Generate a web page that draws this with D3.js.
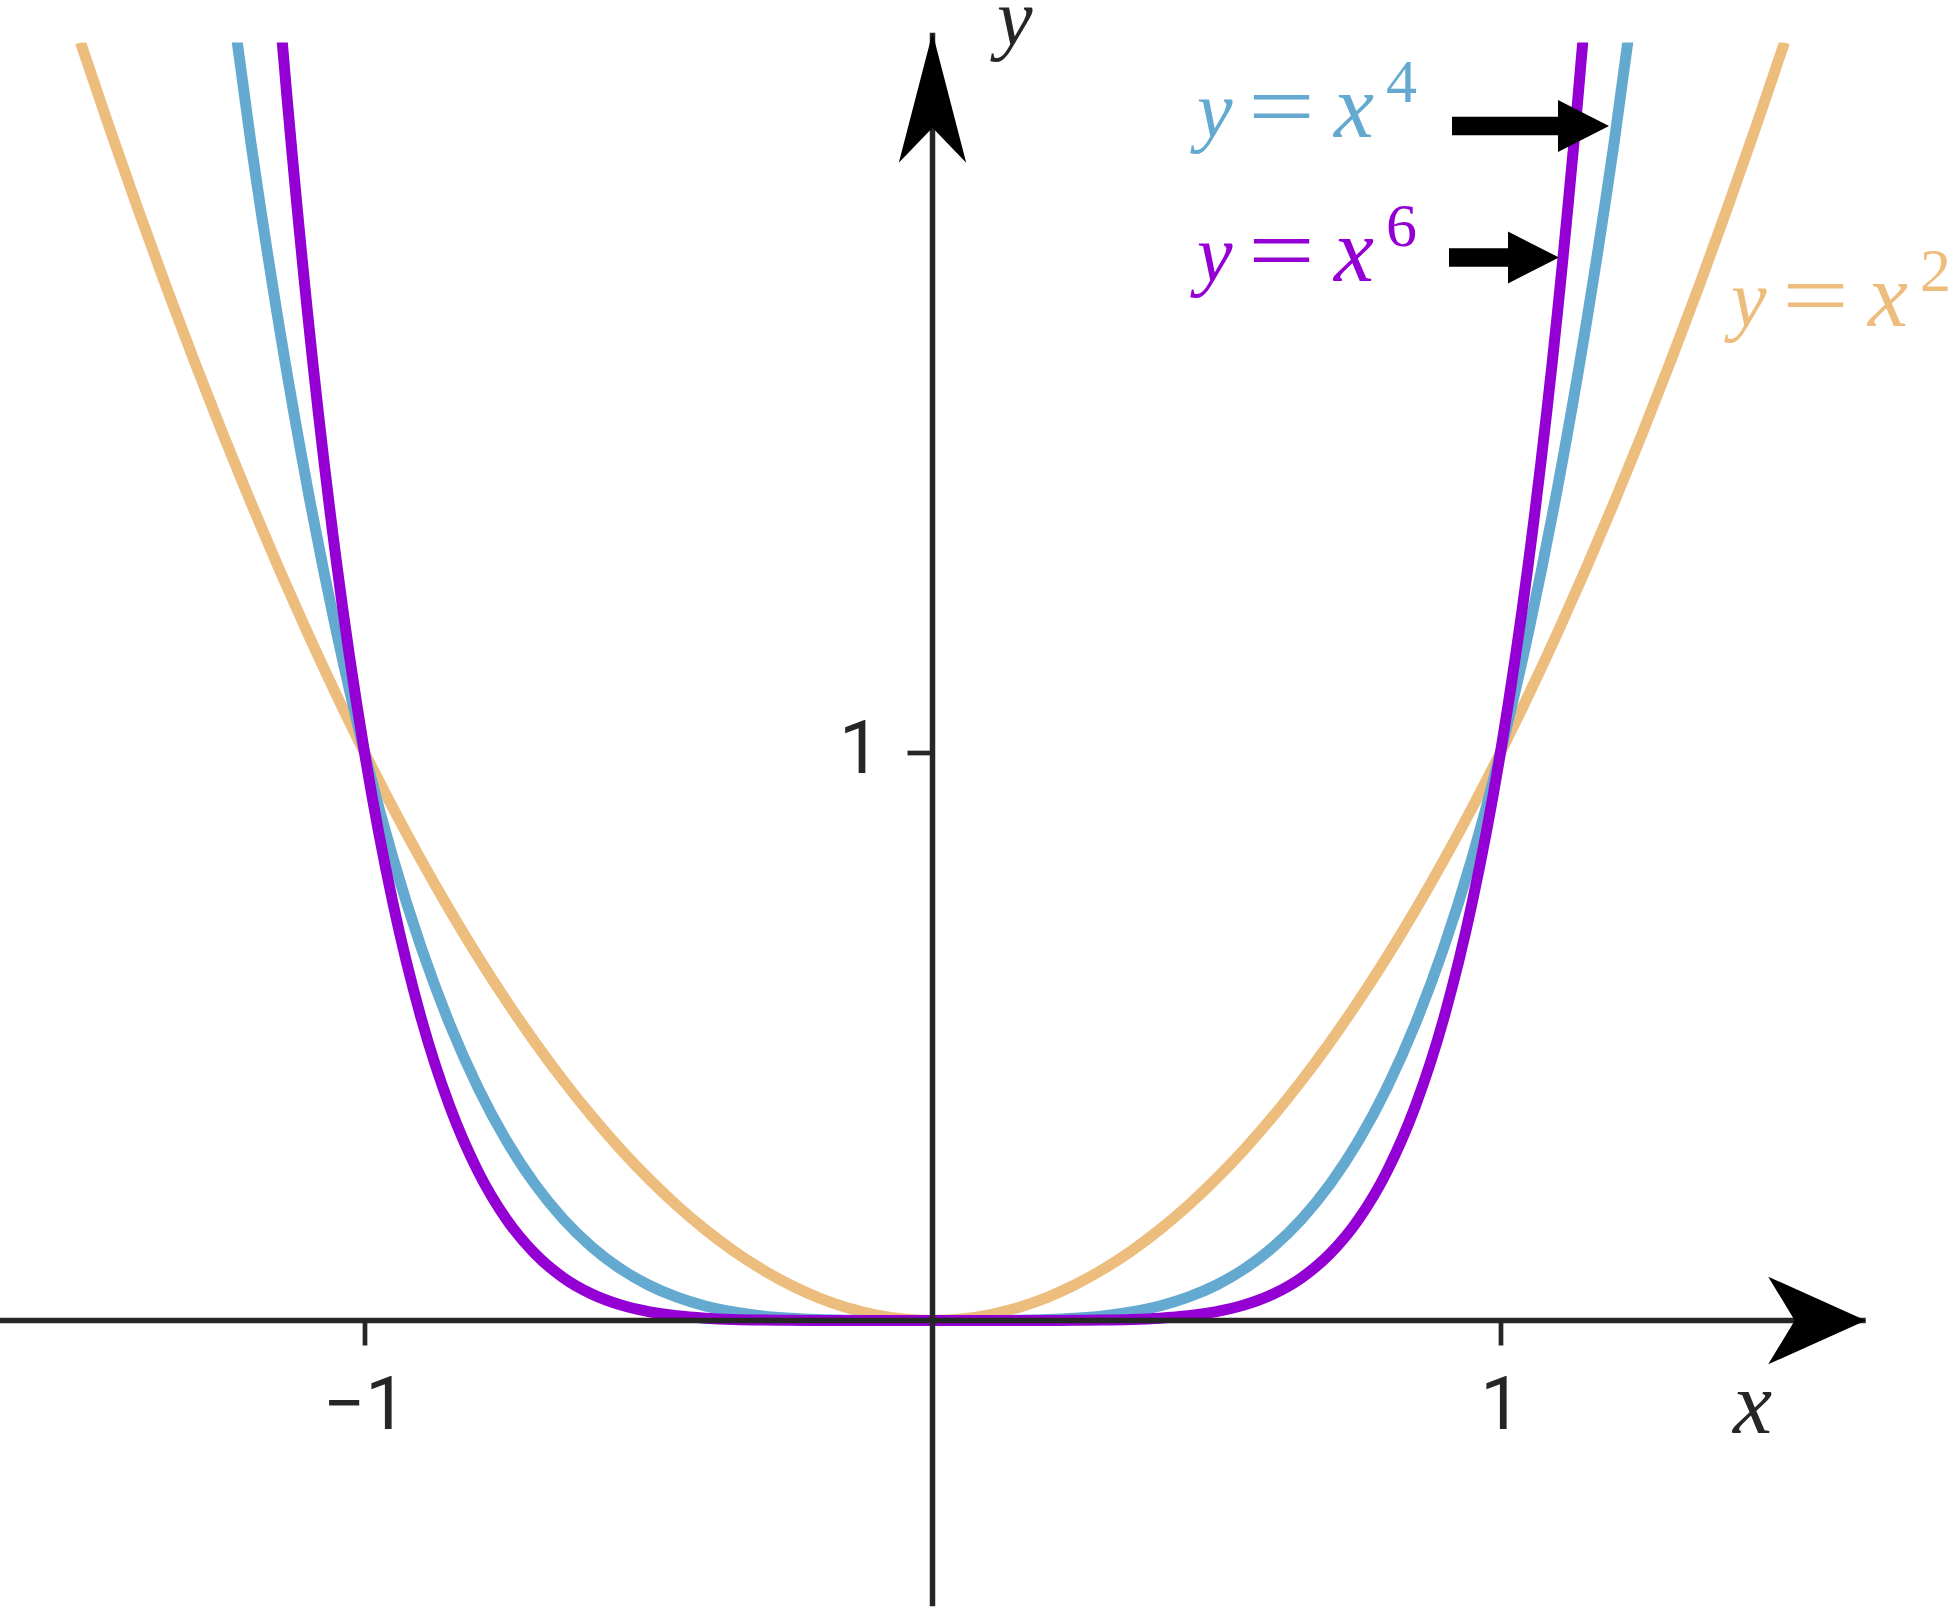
<!DOCTYPE html>
<html>
<head>
<meta charset="utf-8">
<script src="https://cdn.jsdelivr.net/npm/d3@7"></script>
<style>
  body { margin: 0; background: #fff; }
</style>
</head>
<body>
<div id="chart"></div>
<script>
/* Power functions y = x^2, x^4, x^6 drawn on crossing axes. */

// sample points, step 0.05
const xValues = [-1.5, -1.45, -1.4, -1.35, -1.3, -1.25, -1.2, -1.15, -1.1, -1.05,
  -1, -0.95, -0.9, -0.85, -0.8, -0.75, -0.7, -0.65, -0.6, -0.55,
  -0.5, -0.45, -0.4, -0.35, -0.3, -0.25, -0.2, -0.15, -0.1, -0.05,
  0,
  0.05, 0.1, 0.15, 0.2, 0.25, 0.3, 0.35, 0.4, 0.45, 0.5,
  0.55, 0.6, 0.65, 0.7, 0.75, 0.8, 0.85, 0.9, 0.95, 1,
  1.05, 1.1, 1.15, 1.2, 1.25, 1.3, 1.35, 1.4, 1.45, 1.5];

const squareValues = [2.25, 2.1025, 1.96, 1.8225, 1.69, 1.5625, 1.44, 1.3225, 1.21, 1.1025,
  1, 0.9025, 0.81, 0.7225, 0.64, 0.5625, 0.49, 0.4225, 0.36, 0.3025,
  0.25, 0.2025, 0.16, 0.1225, 0.09, 0.0625, 0.04, 0.0225, 0.01, 0.0025,
  0,
  0.0025, 0.01, 0.0225, 0.04, 0.0625, 0.09, 0.1225, 0.16, 0.2025, 0.25,
  0.3025, 0.36, 0.4225, 0.49, 0.5625, 0.64, 0.7225, 0.81, 0.9025, 1,
  1.1025, 1.21, 1.3225, 1.44, 1.5625, 1.69, 1.8225, 1.96, 2.1025, 2.25];

const fourthValues = [5.0625, 4.42051, 3.8416, 3.32151, 2.8561, 2.44141, 2.0736, 1.74901, 1.4641, 1.21551,
  1, 0.81451, 0.6561, 0.52201, 0.4096, 0.31641, 0.2401, 0.17851, 0.1296, 0.09151,
  0.0625, 0.04101, 0.0256, 0.01501, 0.0081, 0.00391, 0.0016, 0.00051, 0.0001, 0.00001,
  0,
  0.00001, 0.0001, 0.00051, 0.0016, 0.00391, 0.0081, 0.01501, 0.0256, 0.04101, 0.0625,
  0.09151, 0.1296, 0.17851, 0.2401, 0.31641, 0.4096, 0.52201, 0.6561, 0.81451, 1,
  1.21551, 1.4641, 1.74901, 2.0736, 2.44141, 2.8561, 3.32151, 3.8416, 4.42051, 5.0625];

const sixthValues = [11.390625, 9.294114, 7.529536, 6.053445, 4.826809, 3.814697, 2.985984, 2.313061, 1.771561, 1.340096,
  1, 0.735092, 0.531441, 0.37715, 0.262144, 0.177979, 0.117649, 0.075419, 0.046656, 0.027681,
  0.015625, 0.008304, 0.004096, 0.001838, 0.000729, 0.000244, 0.000064, 0.0000114, 0.000001, 0,
  0,
  0, 0.000001, 0.0000114, 0.000064, 0.000244, 0.000729, 0.001838, 0.004096, 0.008304, 0.015625,
  0.027681, 0.046656, 0.075419, 0.117649, 0.177979, 0.262144, 0.37715, 0.531441, 0.735092, 1,
  1.340096, 1.771561, 2.313061, 2.985984, 3.814697, 4.826809, 6.053445, 7.529536, 9.294114, 11.390625];

const seriesExponents = ["2", "4", "6"];
const seriesColors = ["#EDBD7E", "#64AAD0", "#9400D3"];

const xTickValues = [-1, 1];
const xTickLabels = ["\u22121", "1"];
const yTickValues = [1];
const yTickLabels = ["1"];

const width = 1954,
    height = 1608;

const sansFont = "Roboto, 'Liberation Sans', Arial, sans-serif";
const serifFont = "'Liberation Serif', 'DejaVu Serif', serif";

const svg = d3.select("#chart")
    .append("svg")
    .attr("width", width)
    .attr("height", height)
    .attr("viewBox", [0, 0, width, height]);

let x = d3.scaleLinear()
    .domain([-1.5, 1.5])
    .range([80.5, 1784.5]);

let y = d3.scaleLinear()
    .domain([0, 2.25])
    .range([1320.5, 42.5]);

// curves are cut off at the top of the plot range
svg.append("clipPath")
    .attr("id", "plot-clip")
    .append("rect")
    .attr("x", 0)
    .attr("y", y(2.25))
    .attr("width", width)
    .attr("height", height - y(2.25));

const series = [squareValues, fourthValues, sixthValues].map((vals, i) => ({
    exponent: seriesExponents[i],
    color: seriesColors[i],
    points: xValues.map((xv, j) => ({ x: xv, y: vals[j] }))
}));

let line = d3.line()
    .x(d => x(d.x))
    .y(d => y(d.y))
    .curve(d3.curveMonotoneX);

svg.append("g")
    .attr("clip-path", "url(#plot-clip)")
    .selectAll("path")
    .data(series)
    .join("path")
    .attr("d", d => line(d.points))
    .attr("fill", "none")
    .attr("stroke", d => d.color)
    .attr("stroke-width", 11);

// axes
const axisColor = "#262626";

svg.append("g")
    .attr("transform", `translate(0,${y(0)})`)
    .call(d3.axisBottom(x).tickValues(xTickValues).tickFormat((d, i) => xTickLabels[i]).tickSize(25).tickPadding(31))
    .attr("font-family", sansFont)
    .attr("font-size", 74)
    .call(g => g.select(".domain").remove())
    .call(g => g.selectAll(".tick line").attr("stroke", axisColor).attr("stroke-width", 4.7))
    .call(g => g.selectAll(".tick text").attr("fill", axisColor));

svg.append("g")
    .attr("transform", `translate(${x(0)},0)`)
    .call(d3.axisLeft(y).tickValues(yTickValues).tickFormat((d, i) => yTickLabels[i]).tickSize(25).tickPadding(27))
    .attr("font-family", sansFont)
    .attr("font-size", 74)
    .call(g => g.select(".domain").remove())
    .call(g => g.selectAll(".tick line").attr("stroke", axisColor).attr("stroke-width", 4.7))
    .call(g => g.selectAll(".tick text").attr("fill", axisColor).attr("dy", "0.27em"));

const xTip = x(1.643), yTip = y(2.267);

svg.append("line")
    .attr("x1", 0).attr("x2", xTip)
    .attr("y1", y(0)).attr("y2", y(0))
    .attr("stroke", axisColor).attr("stroke-width", 5.5);

svg.append("line")
    .attr("x1", x(0)).attr("x2", x(0))
    .attr("y1", y(-0.503)).attr("y2", yTip)
    .attr("stroke", axisColor).attr("stroke-width", 5.5);

// arrowheads
svg.append("path")
    .attr("d", `M${xTip},${y(0)} L${xTip - 97.5},${y(0) - 43.8} L${xTip - 71},${y(0)} L${xTip - 97.5},${y(0) + 43.8} Z`)
    .attr("fill", "#000");

svg.append("path")
    .attr("d", `M${x(0)},${yTip} L${x(0) - 33.7},${yTip + 130} L${x(0)},${yTip + 95} L${x(0) + 33.7},${yTip + 130} Z`)
    .attr("fill", "#000");

// axis names
svg.append("text")
    .attr("x", 997).attr("y", 45)
    .attr("font-family", serifFont)
    .attr("font-size", 80).attr("font-style", "italic")
    .attr("fill", axisColor)
    .text("y");

svg.append("text")
    .attr("x", 1733).attr("y", 1433)
    .attr("font-family", serifFont)
    .attr("font-size", 88).attr("font-style", "italic")
    .attr("fill", axisColor)
    .text("x");

// formula labels  y = x^n
function formula(x0, base, exponent, color) {
    const g = svg.append("g").attr("font-family", serifFont).attr("fill", color);
    g.append("text")
        .attr("x", x0 + 5).attr("y", base)
        .attr("font-size", 80).attr("font-style", "italic")
        .text("y");
    g.append("text")
        .attr("transform", `translate(${x0 + 56},${base}) scale(1.32,1)`)
        .attr("font-size", 90)
        .text("=");
    g.append("text")
        .attr("x", x0 + 142).attr("y", base)
        .attr("font-size", 90).attr("font-style", "italic")
        .text("x");
    g.append("text")
        .attr("x", x0 + 194).attr("y", base - 35)
        .attr("font-size", 62)
        .text(exponent);
}

formula(1192, 137, series[1].exponent, series[1].color);
formula(1192, 281, series[2].exponent, series[2].color);
formula(1726, 326, series[0].exponent, series[0].color);

// block arrows pointing at the curves
function blockArrow(x0, xHead, x1, yc) {
    const s = 9.2, h = 26;
    svg.append("path")
        .attr("d", `M${x0},${yc - s} L${xHead},${yc - s} L${xHead},${yc - h} L${x1},${yc} L${xHead},${yc + h} L${xHead},${yc + s} L${x0},${yc + s} Z`)
        .attr("fill", "#000");
}

blockArrow(1452, 1558, 1609, 126);
blockArrow(1449, 1508, 1559, 257.5);
</script>
</body>
</html>
